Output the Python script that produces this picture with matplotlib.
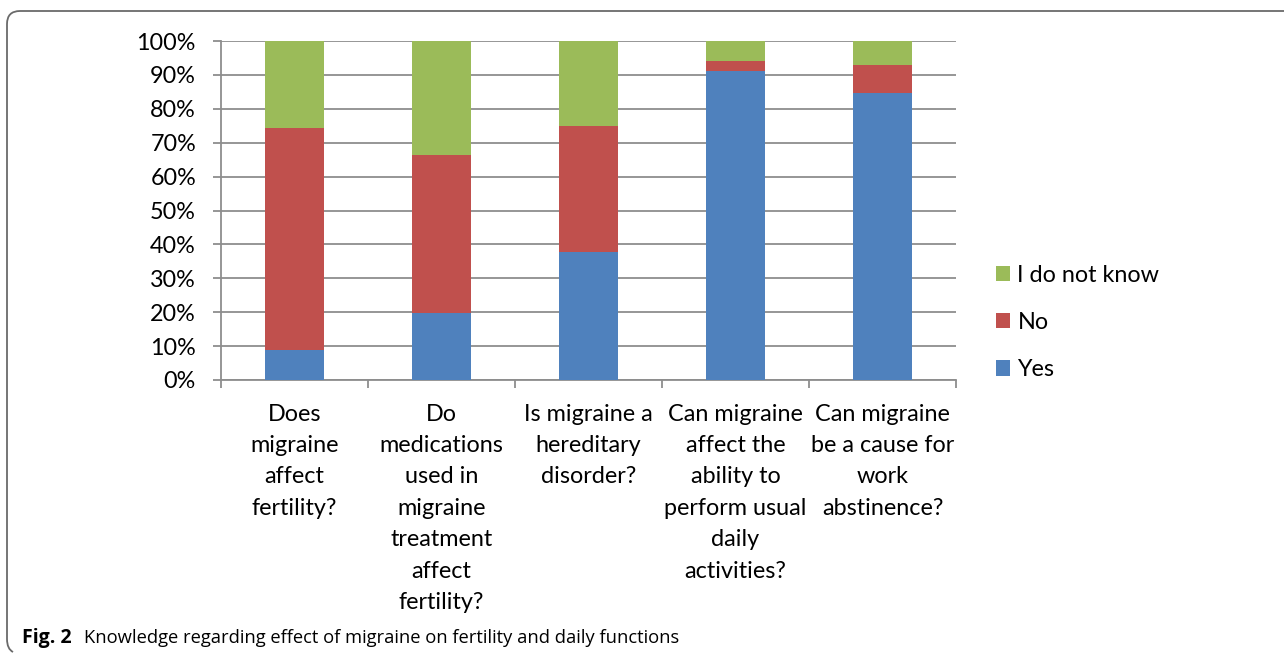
import matplotlib
matplotlib.use("Agg")
import matplotlib.pyplot as plt
from matplotlib.path import Path
from matplotlib.patches import PathPatch
import numpy as np

categories = [
    "Does\nmigraine\naffect\nfertility?",
    "Do\nmedications\nused in\nmigraine\ntreatment\naffect\nfertility?",
    "Is migraine a\nhereditary\ndisorder?",
    "Can migraine\naffect the\nability to\nperform usual\ndaily\nactivities?",
    "Can migraine\nbe a cause for\nwork\nabstinence?",
]
yes = [8.9, 19.7, 37.7, 91.2, 84.6]
no = [65.3, 46.7, 37.2, 2.9, 8.4]
dont_know = [25.8, 33.6, 25.1, 5.9, 7.0]
y_ticks = [0, 10, 20, 30, 40, 50, 60, 70, 80, 90, 100]

c_yes = "#4F81BD"
c_no = "#C0504D"
c_dk = "#9BBB59"
grid_c = "#8E8E8E"

W, H = 1284, 655
fig = plt.figure(figsize=(W / 100, H / 100), dpi=100)
ax = fig.add_axes([221 / W, 1 - 380 / H, (956 - 221) / W, (380 - 41) / H])

x = np.arange(len(categories))
w = 0.4
yes_a = np.array(yes)
no_a = np.array(no)
dk_a = np.array(dont_know)
ax.bar(x, yes_a, w, color=c_yes, label="Yes", zorder=3)
ax.bar(x, no_a, w, bottom=yes_a, color=c_no, label="No", zorder=3)
ax.bar(x, dk_a, w, bottom=yes_a + no_a, color=c_dk, label="I do not know", zorder=3)

ax.set_xlim(-0.5, len(categories) - 0.5)
ax.set_ylim(0, 100)
ax.set_yticks(y_ticks)
ax.set_yticklabels([f"{v}%" for v in y_ticks])
ax.yaxis.grid(True, color=grid_c, linewidth=1.3, zorder=0)
ax.set_axisbelow(True)

for s in ["top", "right"]:
    ax.spines[s].set_visible(False)
for s in ["left", "bottom"]:
    ax.spines[s].set_color(grid_c)
    ax.spines[s].set_linewidth(1.3)

font = "Lato"
fs = 16.8
ax.tick_params(axis="y", length=6, width=1.3, color=grid_c, pad=12,
               labelsize=fs, labelcolor="black")
for t in ax.get_yticklabels():
    t.set_fontfamily(font)

# category boundaries as tick marks, labels drawn separately
ax.set_xticks(np.arange(len(categories) + 1) - 0.5)
ax.set_xticklabels([])
ax.tick_params(axis="x", length=6, width=1.3, color=grid_c)
for i, lab in enumerate(categories):
    ax.text(i, -7.0, lab, ha="center", va="top", fontsize=fs,
            family=font, linespacing=1.61, transform=ax.transData)

handles, labels = ax.get_legend_handles_labels()
leg = fig.legend(handles[::-1], labels[::-1], loc="upper left",
                 bbox_to_anchor=(975 / W, 1 - 244 / H), frameon=False,
                 prop={"family": font, "size": fs}, handlelength=0.62,
                 handleheight=0.62, handletextpad=0.3, labelspacing=1.12)

# panel border with rounded top-left corner
r = 13
verts = [(W + 5, H - 11), (7 + r, H - 11), (7, H - 11), (7, H - 11 - r),
         (7, 16), (7, 6), (13, 3)]
codes = [Path.MOVETO, Path.LINETO, Path.CURVE3, Path.CURVE3,
         Path.LINETO, Path.CURVE3, Path.CURVE3]
verts_f = [(vx / W, vy / H) for vx, vy in verts]
fig.patches.append(PathPatch(Path(verts_f, codes), transform=fig.transFigure,
                             fill=False, edgecolor="#6a6a6a", linewidth=1.3))

fig.text(22 / W, 1 - 638 / H, "Fig. 2", fontsize=14, fontweight="bold",
         family="Open Sans", va="center", ha="left")
fig.text(84 / W, 1 - 638 / H,
         "Knowledge regarding effect of migraine on fertility and daily functions",
         fontsize=13.2, family="Open Sans", va="center", ha="left")

fig.savefig("out.png", dpi=100)
